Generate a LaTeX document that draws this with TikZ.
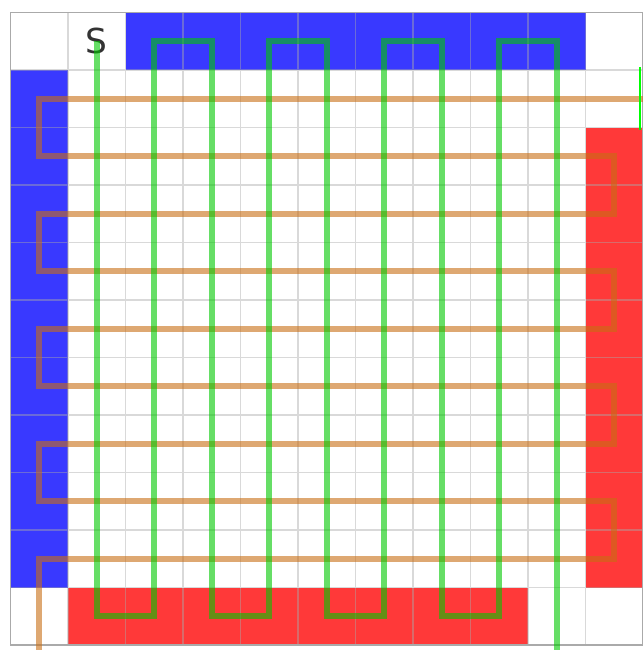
\documentclass[tikz,border=0pt]{standalone}
\usepackage{fontspec}
\newfontfamily\labelfont{DejaVu Sans}

\definecolor{wallblue}{RGB}{57,57,255}
\definecolor{wallred}{RGB}{255,57,57}
\definecolor{gridgray}{RGB}{170,170,170}
\definecolor{bordergray}{RGB}{170,170,170}
\definecolor{snakegreen}{RGB}{0,200,0}
\definecolor{snakeorange}{RGB}{200,110,20}
\definecolor{exitgreen}{RGB}{0,255,0}
\definecolor{labelgray}{RGB}{51,51,51}

\tikzset{
  route/.style={line width=3pt, draw opacity=0.6, line join=miter},
}

\begin{document}
\begin{tikzpicture}
  \useasboundingbox (-0.1826,0.2174) rectangle (10.985,-11.087);

  % Walls around the board
  \fill[wallblue] (2,0) rectangle (10,-1);
  \fill[wallblue] (0,-1) rectangle (1,-10);
  \fill[wallred] (10,-2) rectangle (11,-10);
  \fill[wallred] (1,-10) rectangle (9,-11);

  % Grid lines
  \draw[gridgray, draw opacity=0.45, line width=0.5pt] (0,0) grid (11,-11);
  \draw[bordergray, line width=0.75pt] (0,0) rectangle (11,-11);

  % Start label
  \node[inner sep=0pt, text=labelgray, font=\labelfont\fontsize{17}{20}\selectfont] (start) at (1.5,-0.5) {S};

  % Horizontal sweep
  \draw[route, snakeorange] (11.2,-1.5) -- (0.5,-1.5) -- (0.5,-2.5) -- (10.5,-2.5)
    -- (10.5,-3.5) -- (0.5,-3.5) -- (0.5,-4.5) -- (10.5,-4.5)
    -- (10.5,-5.5) -- (0.5,-5.5) -- (0.5,-6.5) -- (10.5,-6.5)
    -- (10.5,-7.5) -- (0.5,-7.5) -- (0.5,-8.5) -- (10.5,-8.5)
    -- (10.5,-9.5) -- (0.5,-9.5) -- (0.5,-11.2);

  % Vertical sweep from S
  \draw[route, snakegreen] (start.center) -- (1.5,-10.5) -- (2.5,-10.5) -- (2.5,-0.5)
    -- (3.5,-0.5) -- (3.5,-10.5) -- (4.5,-10.5) -- (4.5,-0.5)
    -- (5.5,-0.5) -- (5.5,-10.5) -- (6.5,-10.5) -- (6.5,-0.5)
    -- (7.5,-0.5) -- (7.5,-10.5) -- (8.5,-10.5) -- (8.5,-0.5)
    -- (9.5,-0.5) -- (9.5,-11.2);

  % Exit marker
  \coordinate (exittop) at (10.955,-0.948);
  \coordinate (exitbot) at (10.955,-2.043);
  \draw[exitgreen, line width=1pt] (exittop) -- (exitbot);
\end{tikzpicture}
\end{document}
